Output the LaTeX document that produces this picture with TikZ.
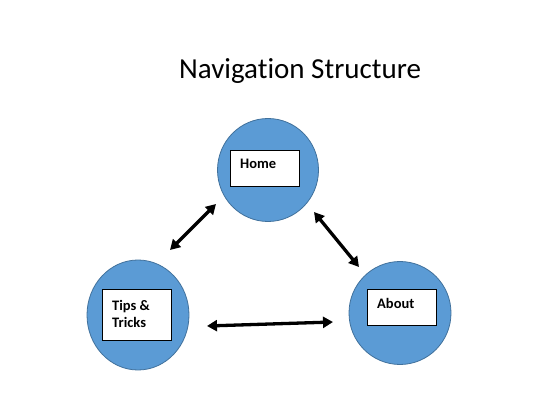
\documentclass[tikz,border=0pt]{standalone}
\usepackage{fontspec}
\setmainfont[Ligatures=NoCommon]{Carlito}
\usetikzlibrary{shapes.geometric,arrows.meta}
\definecolor{nodeblue}{HTML}{5B9BD5}
\definecolor{nodeedge}{HTML}{41719C}
\tikzset{
  page/.style={x=1pt,y=-1pt},
  bubble/.style={ellipse,fill=nodeblue,draw=nodeedge,line width=0.8pt,inner sep=0pt},
  labelbox/.style={rectangle,fill=white,draw=black,line width=0.9pt,inner sep=0pt},
  labeltext/.style={anchor=base west,font=\fontsize{14.5}{17}\selectfont\bfseries,inner sep=0pt,align=left},
  link/.style={line width=3.3pt,{Triangle[length=10pt,width=11pt]}-{Triangle[length=10pt,width=11pt]}}
}
\begin{document}
\begin{tikzpicture}[page]
\useasboundingbox (0,0) rectangle (554,406);
\node[anchor=base west,inner sep=0pt,font=\fontsize{29}{33}\selectfont] (title) at (179,79) {Navigation Structure};
% bubbles
\node[bubble,minimum width=101pt,minimum height=103pt] (home) at (268,170) {};
\node[bubble,minimum width=102pt,minimum height=110pt] (tips) at (138,315) {};
\node[bubble,minimum width=102pt,minimum height=103pt] (about) at (400,313) {};
% boxes
\node[labelbox,minimum width=69pt,minimum height=36pt] (homebox) at (264.5,168) {};
\node[labelbox,minimum width=69pt,minimum height=51pt] (tipsbox) at (136.5,314.5) {};
\node[labelbox,minimum width=69pt,minimum height=36pt] (aboutbox) at (401.5,307) {};
% texts
\node[labeltext] (hometext) at (240,169) {Home};
\node[labeltext] (tipstext) at (112,310) {Tips \&};
\node[labeltext] (trickstext) at (112,327) {Tricks};
\node[labeltext] (abouttext) at (377,308) {About};
% arrow ends
\coordinate (a1) at (170,250);
\coordinate (b1) at (216,204);
\coordinate (a2) at (314,212);
\coordinate (b2) at (359,267);
\coordinate (a3) at (207,326);
\coordinate (b3) at (333,322);
\draw[link] (a1) -- (b1);
\draw[link] (a2) -- (b2);
\draw[link] (a3) -- (b3);
\end{tikzpicture}
\end{document}
